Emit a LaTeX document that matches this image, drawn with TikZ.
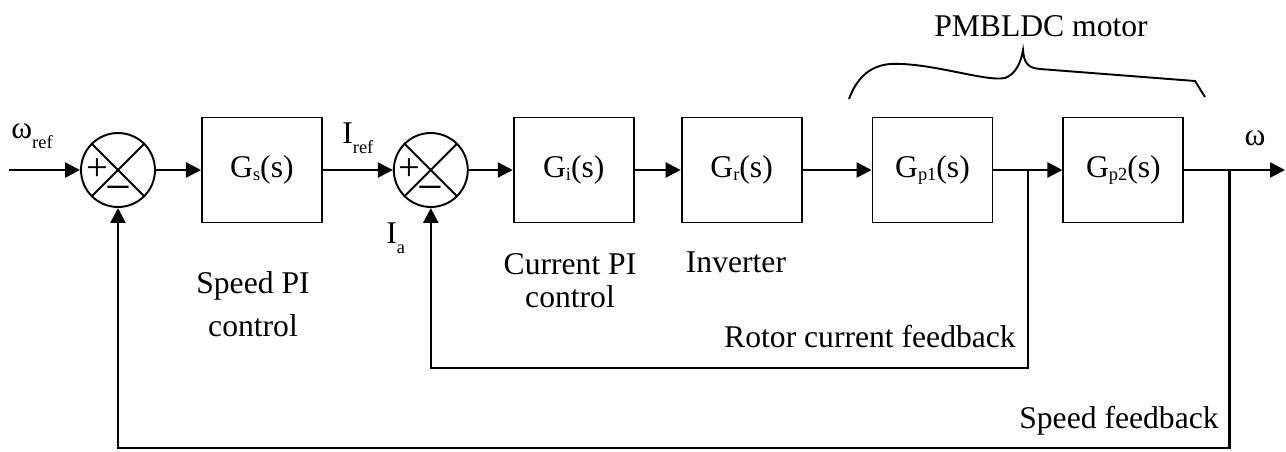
\documentclass[tikz,border=0pt]{standalone}
\usepackage{fontspec}
\setmainfont{Liberation Serif}
\usetikzlibrary{arrows.meta,positioning,calc}
\newcommand{\lowsub}[1]{\raisebox{-0.1em}{\fontsize{10.5}{11}\selectfont #1}}
\newcommand{\deepsub}[1]{\raisebox{-0.34em}{\fontsize{10.5}{11}\selectfont #1}}

\begin{document}
\begin{tikzpicture}[
  x=0.02cm, y=-0.02cm,
  font=\fontsize{18}{21}\selectfont,
  block/.style={draw, line width=1.1pt, minimum width=2.4cm, minimum height=2.1cm, inner sep=0pt},
  sumnode/.style={draw, circle, line width=1.1pt, minimum size=1.48cm, inner sep=0pt},
  lbl/.style={inner sep=0pt},
  plus/.style={inner sep=0pt, font=\fontsize{22}{22}\selectfont},
  minus/.style={inner sep=0pt, font=\fontsize{26}{26}\selectfont},
  arr/.style={-{Triangle[length=3mm,width=3mm]}, line width=1.4pt}
]
\useasboundingbox (0,0) rectangle (1286,451);

\node[sumnode] (s1) at (118,170) {};
\node[block, right=0.9cm of s1] (gs) {G\lowsub{s}(s)};
\node[sumnode, right=1.4cm of gs] (s2) {};
\node[block, right=0.88cm of s2] (gi) {G\lowsub{i}(s)};
\node[block, right=0.92cm of gi] (gr) {G\lowsub{r}(s)};
\node[block, right=1.38cm of gr] (gp1) {G\lowsub{p1}(s)};
\node[block, right=1.38cm of gp1] (gp2) {G\lowsub{p2}(s)};

\draw[line width=1.1pt] (s1.north west) -- (s1.south east) (s1.north east) -- (s1.south west);
\draw[line width=1.1pt] (s2.north west) -- (s2.south east) (s2.north east) -- (s2.south west);
\node[plus] (plus1) at ($(s1)+(-21,0)$) {+};
\node[minus] (minus1) at ($(s1)+(0,24)$) {−};
\node[plus] (plus2) at ($(s2)+(-21,0)$) {+};
\node[minus] (minus2) at ($(s2)+(0,24)$) {−};

\node[lbl, anchor=base west] (wref) at (11,138) {ω\deepsub{ref}};
\node[lbl, anchor=base west] (iref) at (342,143) {I\deepsub{ref}};
\node[lbl, anchor=base west] (ia) at (386,243) {I\deepsub{a}};
\node[lbl, anchor=base] (wlbl) at (1255,145) {ω};
\node[lbl, align=center] (spi) at (253,304) {Speed PI\\[3.4pt]control};
\node[lbl, align=center] (cpi) at (570,281) {Current PI\\[-2.3pt]control};
\node[lbl, anchor=base] (inv) at (736,272) {Inverter};
\node[lbl, anchor=base] (rcf) at (870,347) {Rotor current feedback};
\node[lbl, anchor=base] (sfb) at (1119,428) {Speed feedback};
\node[lbl, anchor=base] (motor) at (1041,36) {PMBLDC motor};

\coordinate (wsrc) at (9,170);
\coordinate (wout) at (1285,170);
\coordinate (b1) at ($(gp1.east)!0.5!(gp2.west)$);
\coordinate (b2) at ([xshift=0.9cm]gp2.east);

\draw[arr] (wsrc) -- (s1);
\draw[arr] (s1) -- (gs);
\draw[arr] (gs) -- (s2);
\draw[arr] (s2) -- (gi);
\draw[arr] (gi) -- (gr);
\draw[arr] (gr) -- (gp1);
\draw[arr] (gp1) -- (gp2);
\draw[arr] (gp2) -- (wout);
\draw[arr] (b1) -- ++(0,198) -| (s2);
\draw[arr] (b2) -- ++(0,278) -| (s1);

\draw[line width=1.1pt] (849,99) .. controls (856,80) and (868,66) .. (890,64) .. controls (930,62) and (985,82) .. (1005,78) .. controls (1016,74) and (1021,62) .. (1023,50) .. controls (1024,62) and (1027,68) .. (1040,69) -- (1195,81) -- (1205,97);
\end{tikzpicture}
\end{document}
